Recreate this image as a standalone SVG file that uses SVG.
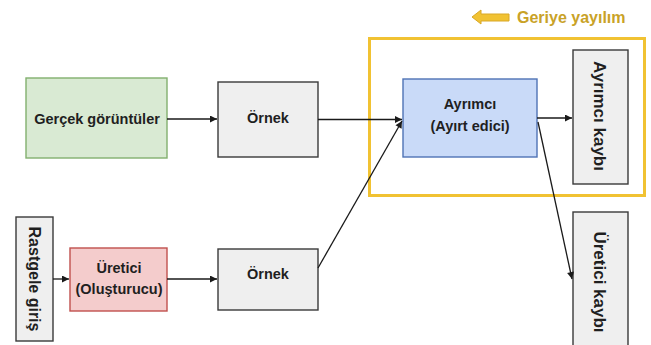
<svg xmlns="http://www.w3.org/2000/svg" width="651" height="345" viewBox="0 0 651 345">
  <defs>
    <marker id="head" viewBox="0 0 10 10" refX="10" refY="5" markerWidth="8" markerHeight="7" markerUnits="userSpaceOnUse" orient="auto">
      <path d="M0,0 L10,5 L0,10 Z" fill="#1a1a1a"/>
    </marker>
    <style>
      .lbl { font-family: "Liberation Sans", Arial, sans-serif; font-weight: bold; fill: #1f1f1f; text-anchor: middle; }
      .h { font-size: 14.5px; }
      .v { font-size: 17px; }
      .gray { fill: #efefef; stroke: #3a3a3a; stroke-width: 1.4; }
      .link { fill: none; stroke: #1a1a1a; stroke-width: 1.3; marker-end: url(#head); }
    </style>
  </defs>

  <rect width="651" height="345" fill="#ffffff"/>

  <!-- backpropagation legend -->
  <g id="backprop">
    <path d="M472,17 L481,10 L481,14 L509,14 L509,21 L481,21 L481,24 Z" fill="#f1c232" stroke="#d9a826" stroke-width="1"/>
    <text x="517" y="23" font-family="Liberation Sans, Arial, sans-serif" font-weight="bold" font-size="16" fill="#c9a227">Geriye yayılım</text>
  </g>

  <!-- discriminator training frame -->
  <rect id="frame" x="369.5" y="38.5" width="275" height="157" fill="none" stroke="#f1c232" stroke-width="3"/>

  <g id="real-images">
    <rect x="26" y="78" width="141" height="80" fill="#d9ead3" stroke="#82b06e" stroke-width="1.4"/>
    <text class="lbl h" x="97" y="124">Gerçek görüntüler</text>
  </g>

  <g id="sample-real">
    <rect class="gray" x="218" y="82" width="100" height="75"/>
    <text class="lbl h" x="268" y="123">Örnek</text>
  </g>

  <g id="random-input">
    <rect class="gray" x="16" y="217" width="37" height="124"/>
    <text class="lbl" font-size="16" transform="translate(35,279) rotate(90)" y="6">Rastgele giriş</text>
  </g>

  <g id="generator">
    <rect x="70" y="248" width="97" height="63" fill="#f4cccc" stroke="#c0504d" stroke-width="1.4"/>
    <text class="lbl h" x="119" y="273">Üretici</text>
    <text class="lbl h" x="119" y="294">(Oluşturucu)</text>
  </g>

  <g id="sample-fake">
    <rect class="gray" x="218" y="249" width="100" height="61"/>
    <text class="lbl h" x="268" y="279">Örnek</text>
  </g>

  <g id="discriminator">
    <rect x="403" y="79" width="134" height="78" fill="#c9daf8" stroke="#4f73b5" stroke-width="1.4"/>
    <text class="lbl h" x="470" y="109">Ayrımcı</text>
    <text class="lbl h" x="470" y="131">(Ayırt edici)</text>
  </g>

  <g id="disc-loss">
    <rect class="gray" x="573" y="50" width="55" height="134"/>
    <text class="lbl v" transform="translate(600,116) rotate(90)" y="6">Ayrımcı kaybı</text>
  </g>

  <g id="gen-loss">
    <rect class="gray" x="573" y="212" width="55" height="140"/>
    <text class="lbl v" transform="translate(600,282) rotate(90)" y="6">Üretici kaybı</text>
  </g>

  <g id="connectors">
    <line class="link" x1="167" y1="119" x2="217" y2="119"/>
    <line class="link" x1="318" y1="119.5" x2="402" y2="119.5"/>
    <line class="link" x1="53" y1="279" x2="69" y2="279"/>
    <line class="link" x1="167" y1="279" x2="217" y2="279"/>
    <line class="link" x1="318" y1="268" x2="402" y2="121"/>
    <line class="link" x1="537" y1="118" x2="572" y2="118"/>
    <line class="link" x1="538" y1="122" x2="572" y2="279"/>
  </g>
</svg>
